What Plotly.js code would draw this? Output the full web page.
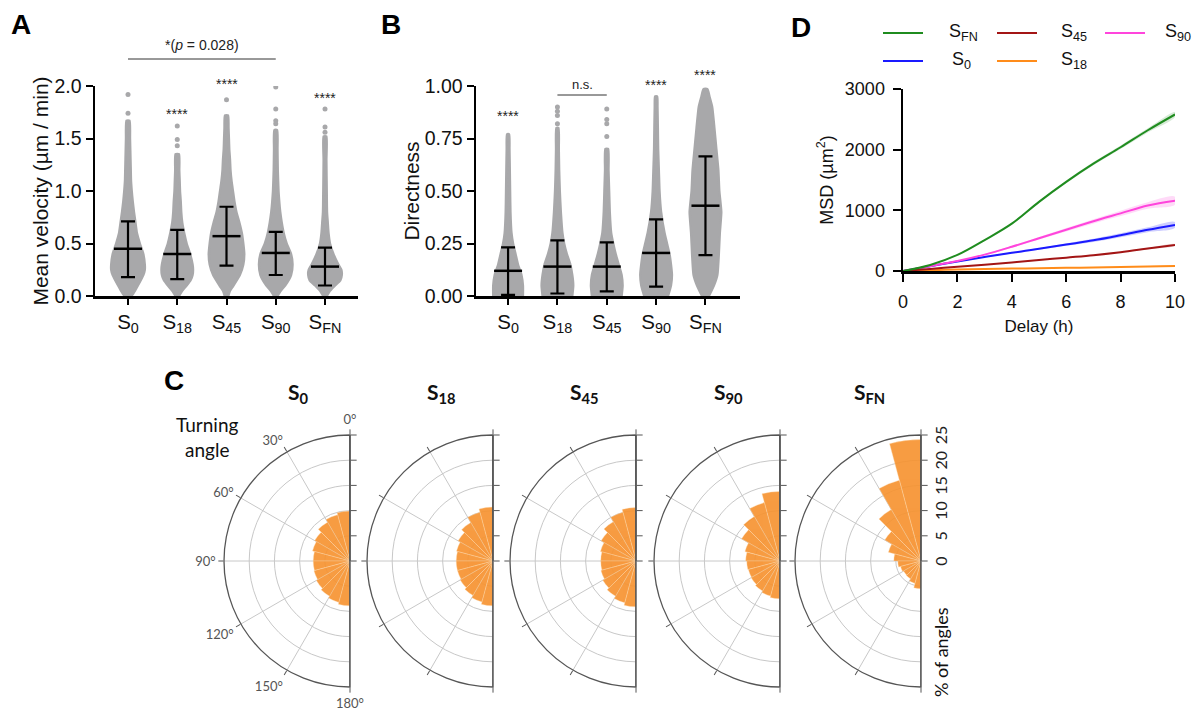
<!DOCTYPE html>
<html><head><meta charset="utf-8">
<script src="https://cdn.plot.ly/plotly-3.0.1.min.js"></script>
<style>html,body{margin:0;padding:0;background:#fff}#chart{width:1196px;height:708px}</style>
</head><body><div id="chart"></div>
<script>
// ---------- DATA ----------
const groupLabels = ['S<sub>0</sub>','S<sub>18</sub>','S<sub>45</sub>','S<sub>90</sub>','S<sub>FN</sub>'];

// Panel A: mean velocity (um/min) – mean and SD limits
const velMean   = [0.45, 0.40, 0.57, 0.41, 0.28];
const velSdLow  = [0.18, 0.16, 0.29, 0.20, 0.10];
const velSdHigh = [0.71, 0.63, 0.85, 0.61, 0.46];
// density profiles of the dot swarms (value levels and relative half-widths)
const velLevels_S0  = [0,0.05,0.1,0.2,0.25,0.3,0.4,0.5,0.6,0.7,0.8,0.9,1.0,1.1,1.2,1.3,1.5,1.67];
const velSpread_S0  = [0.07,0.14,0.2,0.31,0.34,0.34,0.31,0.24,0.18,0.15,0.12,0.095,0.075,0.06,0.055,0.05,0.04,0.03];
const velLevels_S18 = [0,0.05,0.1,0.15,0.2,0.25,0.3,0.4,0.5,0.6,0.7,0.8,0.9,1.0,1.1,1.2,1.35];
const velSpread_S18 = [0.035,0.1,0.19,0.27,0.31,0.32,0.31,0.26,0.19,0.14,0.1,0.08,0.07,0.055,0.048,0.04,0.034];
const velLevels_S45 = [0,0.05,0.1,0.2,0.3,0.4,0.5,0.6,0.7,0.8,0.9,1.0,1.1,1.2,1.3,1.4,1.5,1.6,1.72];
const velSpread_S45 = [0.035,0.07,0.14,0.27,0.34,0.36,0.34,0.31,0.26,0.2,0.16,0.13,0.1,0.08,0.07,0.055,0.048,0.04,0.03];
const velLevels_S90 = [0,0.05,0.1,0.2,0.3,0.4,0.5,0.6,0.7,0.8,0.9,1.0,1.2,1.4,1.58];
const velSpread_S90 = [0.035,0.1,0.19,0.31,0.34,0.31,0.22,0.16,0.12,0.09,0.07,0.055,0.04,0.034,0.027];
const velLevels_SFN = [0,0.05,0.1,0.15,0.2,0.25,0.3,0.4,0.5,0.6,0.7,0.8,1.0,1.3,1.52];
const velSpread_SFN = [0.035,0.1,0.2,0.31,0.34,0.33,0.27,0.17,0.1,0.07,0.055,0.04,0.034,0.027,0.027];
const velOutliers = [[1.74,1.92],[1.43,1.49,1.62],[1.87],[1.64,1.67,1.78,1.99],[1.56,1.61,1.78]];

// Panel B: directness
const dirMean   = [0.12, 0.14, 0.14, 0.205, 0.43];
const dirSdLow  = [0.005, 0.012, 0.022, 0.045, 0.195];
const dirSdHigh = [0.232, 0.265, 0.255, 0.365, 0.665];
const dirLevels_S0  = [0,0.05,0.1,0.15,0.2,0.25,0.3,0.4,0.5,0.6,0.7,0.77];
const dirSpread_S0  = [0.3,0.3,0.27,0.2,0.15,0.1,0.068,0.047,0.04,0.034,0.027,0.02];
const dirLevels_S18 = [0,0.05,0.1,0.15,0.2,0.25,0.3,0.4,0.5,0.6,0.7,0.8];
const dirSpread_S18 = [0.3,0.32,0.3,0.26,0.19,0.135,0.1,0.068,0.047,0.034,0.027,0.02];
const dirLevels_S45 = [0,0.05,0.1,0.15,0.2,0.25,0.3,0.4,0.5,0.6,0.7];
const dirSpread_S45 = [0.3,0.32,0.3,0.24,0.18,0.13,0.088,0.06,0.047,0.034,0.027];
const dirLevels_S90 = [0,0.05,0.1,0.15,0.2,0.25,0.3,0.4,0.5,0.6,0.7,0.8,0.9,0.95];
const dirSpread_S90 = [0.24,0.3,0.32,0.3,0.27,0.22,0.17,0.1,0.068,0.054,0.04,0.034,0.027,0.02];
const dirLevels_SFN = [0,0.05,0.1,0.2,0.3,0.4,0.5,0.6,0.7,0.8,0.9,0.95,0.985];
const dirSpread_SFN = [0.068,0.17,0.24,0.27,0.29,0.32,0.28,0.26,0.22,0.18,0.135,0.08,0.04];
const dirOutliers = [[],[0.82,0.86,0.88,0.90],[0.76,0.82,0.84,0.89],[],[]];

// Panel C: turning angle histograms (% of angles per 15° bin)
const turnBins = [7.5,22.5,37.5,52.5,67.5,82.5,97.5,112.5,127.5,142.5,157.5,172.5];
const turnS0  = [9.9,9.5,8.9,8.1,7.7,7.3,7.3,7.4,7.7,8.1,8.5,8.9];
const turnS18 = [10.7,10.0,8.8,8.0,7.5,7.3,7.3,7.3,7.5,7.9,8.4,8.9];
const turnS45 = [10.6,10.0,9.0,8.0,7.3,7.0,7.0,7.2,7.6,8.1,8.6,9.1];
const turnS90 = [13.8,12.0,10.2,8.8,7.2,6.8,6.6,6.5,6.6,6.9,7.2,7.5];
const turnSFN = [24.1,16.6,11.8,8.3,6.7,5.4,4.6,4.2,4.0,4.1,4.6,5.5];
const angleTicks = [0,30,60,90,120,150,180];
const radialTicks = [0,5,10,15,20,25];

// Panel D: MSD (um^2) vs delay (h), mean and SEM
const delay  = [0,1,2,3,4,5,6,7,8,9,10];
const msdFN  = [0,100,265,510,780,1140,1470,1770,2040,2320,2580];
const msd45  = [0,35,70,105,140,180,220,260,310,370,430];
const msd90  = [0,80,165,270,400,540,680,820,950,1080,1160];
const msd0   = [0,80,155,230,300,365,435,505,590,680,760];
const msd18  = [0,12,25,33,40,46,52,58,65,75,83];
const semFN  = [0,3,6,10,14,18,22,26,30,35,40];
const sem45  = [0,1,2,3,4,5,6,8,10,12,14];
const sem90  = [0,3,6,10,15,20,27,35,45,55,65];
const sem0   = [0,2,5,8,11,15,20,26,33,40,48];
const sem18  = [0,1,1,2,2,3,3,4,5,6,7];

// ---------- STYLE / LAYOUT ----------
const W = 1196, H = 708;
const px = v => v / W;
const py = v => 1 - v / H;
const GREY = '#a8a8aa';
const ARIAL = 'Liberation Sans, Arial, sans-serif';
const CAL = 'Lato, Open Sans, sans-serif';

const traces = [];

function swarm(xi, levels, spread, xa, ya) {
  const n = levels.length;
  const xs = [], ys = [];
  for (let k = 0; k < n; k++) { xs.push(xi + spread[k]); ys.push(levels[k]); }
  for (let k = n - 1; k >= 0; k--) { xs.push(xi - spread[k]); ys.push(levels[k]); }
  return {type:'scatter', x:xs, y:ys, xaxis:xa, yaxis:ya, mode:'lines', fill:'toself',
    fillcolor:GREY, line:{color:GREY, width:2.5, shape:'spline', smoothing:0.5},
    hoverinfo:'skip', showlegend:false};
}
function dots(outl, xa, ya) {
  const xs = [], ys = [];
  outl.forEach((arr, i) => arr.forEach(v => { xs.push(i); ys.push(v); }));
  return {type:'scatter', x:xs, y:ys, xaxis:xa, yaxis:ya, mode:'markers',
    marker:{color:GREY, size:5}, hoverinfo:'skip', showlegend:false};
}
function meanSd(mean, lo, hi, xa, ya) {
  return {type:'scatter', x:[0,1,2,3,4], y:mean, xaxis:xa, yaxis:ya, mode:'markers',
    marker:{symbol:'line-ew', size:20, color:'#000', line:{width:2.5, color:'#000'}},
    error_y:{type:'data', symmetric:false, array:hi.map((h,i)=>h-mean[i]),
      arrayminus:mean.map((m,i)=>m-lo[i]), color:'#000', thickness:2.2, width:7},
    hoverinfo:'skip', showlegend:false};
}

const velL = [velLevels_S0, velLevels_S18, velLevels_S45, velLevels_S90, velLevels_SFN];
const velS = [velSpread_S0, velSpread_S18, velSpread_S45, velSpread_S90, velSpread_SFN];
const dirL = [dirLevels_S0, dirLevels_S18, dirLevels_S45, dirLevels_S90, dirLevels_SFN];
const dirS = [dirSpread_S0, dirSpread_S18, dirSpread_S45, dirSpread_S90, dirSpread_SFN];
for (let i = 0; i < 5; i++) traces.push(swarm(i, velL[i], velS[i], 'x', 'y'));
traces.push(dots(velOutliers, 'x', 'y'));
traces.push(meanSd(velMean, velSdLow, velSdHigh, 'x', 'y'));
for (let i = 0; i < 5; i++) traces.push(swarm(i, dirL[i], dirS[i], 'x2', 'y2'));
traces.push(dots(dirOutliers, 'x2', 'y2'));
traces.push(meanSd(dirMean, dirSdLow, dirSdHigh, 'x2', 'y2'));

// Panel D
const msdSeries = [
  {name:'S<sub>FN</sub>', y:msdFN, sem:semFN, color:'#1f8c1f', band:'rgba(31,140,31,0.18)'},
  {name:'S<sub>45</sub>', y:msd45, sem:sem45, color:'#a31515', band:'rgba(163,21,21,0.18)'},
  {name:'S<sub>90</sub>', y:msd90, sem:sem90, color:'#ff45dc', band:'rgba(255,69,220,0.2)'},
  {name:'S<sub>0</sub>',  y:msd0,  sem:sem0,  color:'#1a1aff', band:'rgba(26,26,255,0.22)'},
  {name:'S<sub>18</sub>', y:msd18, sem:sem18, color:'#ff8c1a', band:'rgba(255,140,26,0.2)'}
];
msdSeries.forEach(s => {
  const up = s.y.map((v,i)=>v + s.sem[i]);
  const dn = s.y.map((v,i)=>v - s.sem[i]);
  traces.push({type:'scatter', x:delay.concat(delay.slice().reverse()), y:up.concat(dn.slice().reverse()),
    xaxis:'x3', yaxis:'y3', mode:'lines', fill:'toself', fillcolor:s.band, line:{width:0, shape:'spline'},
    hoverinfo:'skip', showlegend:false});
});
msdSeries.slice().reverse().forEach(s => {
  traces.push({type:'scatter', x:delay, y:s.y, xaxis:'x3', yaxis:'y3', mode:'lines', name:s.name,
    line:{color:s.color, width:2, shape:'spline'}, showlegend:false});
});

// Panel C polars
const turnData = [turnS0, turnS18, turnS45, turnS90, turnSFN];
const polarCenters = [350, 493, 636, 780, 921];
const polarR = 126, polarCy = 561;
turnData.forEach((vals, i) => {
  const sp = i === 0 ? 'polar' : 'polar' + (i + 1);
  traces.push({type:'barpolar', r:vals, theta:turnBins, width:15, subplot:sp,
    marker:{color:'#f7922e', opacity:0.9, line:{color:'rgba(255,220,180,0.6)', width:0.6}},
    hoverinfo:'skip', showlegend:false});
  traces.push({type:'scatterpolar', r:[radialTicks[5], radialTicks[5]], theta:[angleTicks[0], angleTicks[6]],
    subplot:sp, mode:'lines', line:{color:'#555', width:1.3}, hoverinfo:'skip', showlegend:false});
});

const baseAxis = {showline:true, linecolor:'#000', linewidth:2.5, ticks:'outside', tickcolor:'#000',
  tickwidth:2, ticklen:7, showgrid:false, zeroline:false, tickfont:{family:ARIAL, size:19.5, color:'#111'}};
const catFont = {family:ARIAL, size:20.5, color:'#111'};

const layout = {
  width:W, height:H, margin:{l:0,r:0,t:0,b:0}, paper_bgcolor:'#fff', plot_bgcolor:'rgba(0,0,0,0)',
  font:{family:ARIAL, color:'#111'}, showlegend:false,
  xaxis:Object.assign({}, baseAxis, {domain:[px(95), px(358)], range:[-0.67,4.67], tickvals:[0,1,2,3,4],
    ticktext:groupLabels, anchor:'y', ticklen:6, tickfont:catFont}),
  yaxis:Object.assign({}, baseAxis, {domain:[py(296), py(86)], range:[0,2], tickvals:[0,0.5,1,1.5,2],
    tickformat:'.1f', anchor:'x', title:{text:'Mean velocity (µm / min)', font:{family:ARIAL, size:21}, standoff:0}}),
  xaxis2:Object.assign({}, baseAxis, {domain:[px(476), px(740)], range:[-0.65,4.7], tickvals:[0,1,2,3,4],
    ticktext:groupLabels, anchor:'y2', ticklen:6, tickfont:catFont}),
  yaxis2:Object.assign({}, baseAxis, {domain:[py(296), py(86)], range:[0,1], tickvals:[0,0.25,0.5,0.75,1],
    tickformat:'.2f', anchor:'x2', title:{text:'Directness', font:{family:ARIAL, size:21}, standoff:0}}),
  xaxis3:Object.assign({}, baseAxis, {domain:[px(903), px(1175)], range:[0,10], tickvals:[0,2,4,6,8,10],
    anchor:'y3', ticklen:8, ticklabelstandoff:5, tickfont:{family:ARIAL, size:18, color:'#111'},
    title:{text:'Delay (h)', font:{family:ARIAL, size:17}, standoff:9}}),
  yaxis3:Object.assign({}, baseAxis, {domain:[py(271), py(89)], range:[0,3000], tickvals:[0,1000,2000,3000],
    tickformat:'d', anchor:'x3', ticklen:8, ticklabelstandoff:4, tickfont:{family:ARIAL, size:18, color:'#111'},
    title:{text:'MSD (µm<sup>2</sup>)', font:{family:ARIAL, size:18}, standoff:7}}),
  annotations:[], shapes:[]
};

function note(o) { return Object.assign({showarrow:false, xanchor:'center', yanchor:'middle'}, o); }

turnData.forEach((v, i) => {
  const key = i === 0 ? 'polar' : 'polar' + (i + 1);
  const cx = polarCenters[i];
  layout[key] = {
    domain:{x:[px(cx - polarR), px(cx)], y:[py(polarCy + polarR), py(polarCy - polarR)]},
    sector:[90, 270], hole:0, bgcolor:'#fff',
    angularaxis:{rotation:90, direction:'counterclockwise', tickvals:angleTicks,
      ticktext:angleTicks.map(a => a + '°'), showticklabels:i === 0, ticks:'outside', ticklen:5,
      tickcolor:'#555', showline:true, linecolor:'#555', linewidth:1.3, gridcolor:'#c8c8c8', gridwidth:1,
      tickfont:{family:CAL, size:13, color:'#555'}},
    radialaxis:{range:[0,25], tickvals:radialTicks, showticklabels:i === 4, ticks:'outside', ticklen:6,
      tickcolor:'#555', showline:true, linecolor:'#555', linewidth:1.3, gridcolor:'#c8c8c8', gridwidth:1,
      angle:90, side:'clockwise', tickfont:{family:CAL, size:16, color:'#222'}}
  };
  layout.annotations.push(note({xref:'paper', yref:'paper', x:px(cx - 52), y:py(393),
    text:'<b>' + groupLabels[i] + '</b>', font:{family:CAL, size:21, color:'#111'}}));
});

const ann = layout.annotations;
const panelFont = {family:ARIAL, size:28, color:'#000'};
ann.push(note({xref:'paper', yref:'paper', x:px(21), y:py(25), text:'<b>A</b>', font:panelFont}));
ann.push(note({xref:'paper', yref:'paper', x:px(391), y:py(25), text:'<b>B</b>', font:panelFont}));
ann.push(note({xref:'paper', yref:'paper', x:px(801), y:py(27), text:'<b>D</b>', font:panelFont}));
ann.push(note({xref:'paper', yref:'paper', x:px(174), y:py(380), text:'<b>C</b>', font:panelFont}));

// significance marks
const starFont = {family:ARIAL, size:14, color:'#222'};
[[1,114],[2,84],[4,98]].forEach(([c,yy]) => ann.push(note({xref:'x', yref:'paper', x:c, y:py(yy), text:'****', font:starFont})));
[[0,116],[3,85],[4,75]].forEach(([c,yy]) => ann.push(note({xref:'x2', yref:'paper', x:c, y:py(yy), text:'****', font:starFont})));
ann.push(note({xref:'x', yref:'paper', x:1.5, y:py(45), text:'*(<i>p</i> = 0.028)', font:{family:ARIAL, size:14, color:'#222'}}));
layout.shapes.push({type:'line', xref:'x', yref:'paper', x0:0, x1:3, y0:py(59), y1:py(59), line:{color:'#333', width:1}});
ann.push(note({xref:'x2', yref:'paper', x:1.5, y:py(85), text:'n.s.', font:{family:ARIAL, size:13, color:'#222'}}));
layout.shapes.push({type:'line', xref:'x2', yref:'paper', x0:1, x1:2, y0:py(95), y1:py(95), line:{color:'#333', width:1}});

// Panel C texts
ann.push(note({xref:'paper', yref:'paper', x:px(207), y:py(437), text:'Turning<br>angle',
  align:'center', font:{family:CAL, size:19, color:'#111'}}));
ann.push(note({xref:'paper', yref:'paper', x:px(941), y:py(652), text:'% of angles', textangle:-90,
  font:{family:CAL, size:18, color:'#111'}}));

// Panel D legend (manual, two rows)
const legendPos = [[883,33,947],[997,33,1059],[1105,33,1163],[883,61,950],[997,61,1059]];
msdSeries.forEach((s, i) => {
  const [lx, ly, tx] = legendPos[i];
  layout.shapes.push({type:'line', xref:'paper', yref:'paper', x0:px(lx), x1:px(lx+40), y0:py(ly), y1:py(ly),
    line:{color:s.color, width:2}});
  ann.push(note({xref:'paper', yref:'paper', x:px(tx), y:py(ly), xanchor:'left', text:s.name,
    font:{family:ARIAL, size:18, color:'#111'}}));
});

Plotly.newPlot('chart', traces, layout, {staticPlot:true});
</script>
</body></html>
